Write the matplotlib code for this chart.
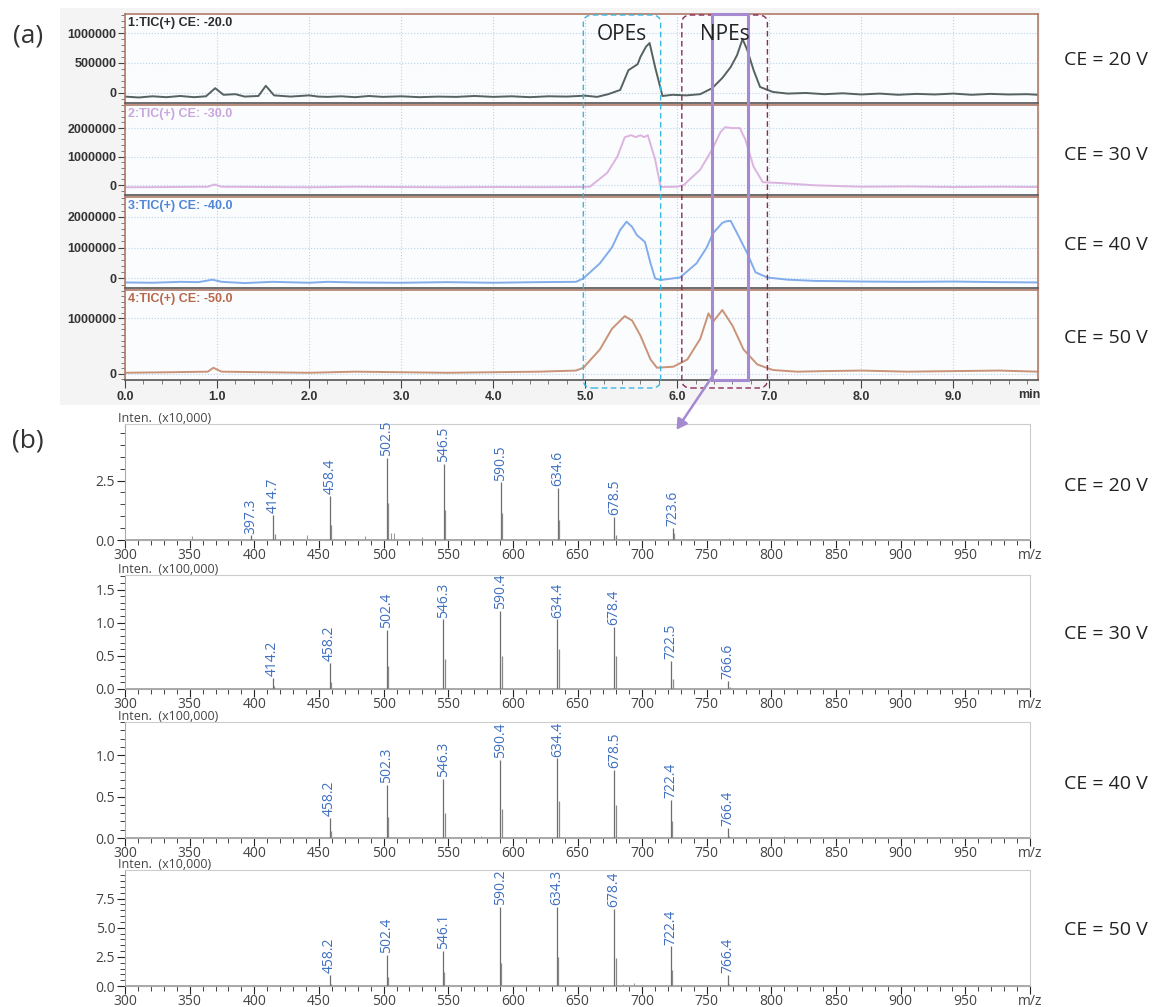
import matplotlib
matplotlib.use("Agg")
import matplotlib.pyplot as plt
from matplotlib.patches import Rectangle, FancyBboxPatch, FancyArrowPatch
from matplotlib.ticker import MultipleLocator, FixedLocator, FuncFormatter

# ---- (a) TIC chromatograms, time (min) / intensity ----
t20 = [0.0, 0.15, 0.3, 0.45, 0.6, 0.75, 0.88, 0.98, 1.07, 1.2, 1.3, 1.45, 1.53, 1.62, 1.8, 2.0, 2.1,
       2.2, 2.35, 2.5, 2.65, 2.8, 3.0, 3.2, 3.4, 3.6, 3.8, 4.0, 4.2, 4.4, 4.6, 4.8, 5.0, 5.13, 5.25,
       5.38, 5.47, 5.52, 5.57, 5.6, 5.66, 5.7, 5.76, 5.84, 5.95, 6.1, 6.25, 6.38, 6.49, 6.58, 6.65,
       6.71, 6.76, 6.83, 6.9, 7.04, 7.2, 7.4, 7.6, 7.8, 8.0, 8.2, 8.4, 8.6, 8.8, 9.0, 9.2, 9.4, 9.6,
       9.8, 9.92]
i20 = [-60e3, -75e3, -55e3, -70e3, -50e3, -70e3, -55e3, 80e3, -30e3, -20e3, -60e3, -50e3, 120e3,
       -40e3, -60e3, -40e3, -60e3, -65e3, -55e3, -70e3, -50e3, -65e3, -55e3, -70e3, -60e3, -65e3,
       -50e3, -65e3, -55e3, -70e3, -55e3, -60e3, -45e3, -65e3, -20e3, 50e3, 380e3, 430e3, 480e3,
       600e3, 770e3, 833e3, 430e3, -50e3, -30e3, -40e3, -20e3, 80e3, 250e3, 430e3, 630e3, 900e3,
       720e3, 380e3, 100e3, 17e3, -10e3, 0, -20e3, -5e3, -25e3, -10e3, -30e3, -15e3, -25e3, -10e3,
       -30e3, -15e3, -25e3, -20e3, -30e3]

t30 = [0.0, 0.5, 0.9, 0.97, 1.05, 1.5, 2.0, 2.5, 3.0, 3.5, 4.0, 4.5, 4.9, 5.05, 5.24, 5.35, 5.43,
       5.5, 5.55, 5.6, 5.64, 5.68, 5.76, 5.82, 6.0, 6.07, 6.25, 6.38, 6.47, 6.52, 6.6, 6.68, 6.74,
       6.83, 6.93, 7.12, 7.5, 8.0, 8.5, 9.0, 9.5, 9.92]
i30 = [-80e3, -70e3, -60e3, 20e3, -60e3, -70e3, -80e3, -60e3, -70e3, -80e3, -70e3, -75e3, -70e3,
       -60e3, 430e3, 1.0e6, 1.68e6, 1.75e6, 1.68e6, 1.75e6, 1.68e6, 1.75e6, 0.9e6, -70e3, -60e3, 0,
       540e3, 1.25e6, 1.86e6, 2.03e6, 2.0e6, 2.0e6, 1.6e6, 640e3, 100e3, 70e3, -10e3, -60e3, -50e3,
       -70e3, -60e3, -70e3]

t40 = [0.0, 0.3, 0.6, 0.8, 0.95, 1.05, 1.3, 1.6, 2.0, 2.2, 2.5, 3.0, 3.5, 4.0, 4.5, 4.9, 4.98,
       5.16, 5.29, 5.38, 5.45, 5.51, 5.56, 5.65, 5.71, 5.76, 5.82, 6.03, 6.21, 6.32, 6.39, 6.49,
       6.53, 6.58, 6.65, 6.76, 6.85, 6.98, 7.2, 7.5, 8.0, 8.5, 9.0, 9.5, 9.92]
i40 = [-130e3, -140e3, -110e3, -120e3, -40e3, -110e3, -150e3, -110e3, -140e3, -110e3, -130e3,
       -140e3, -120e3, -140e3, -120e3, -110e3, 0, 490e3, 1.0e6, 1.57e6, 1.84e6, 1.67e6, 1.41e6,
       1.18e6, 490e3, 0, -50e3, 30e3, 490e3, 1.0e6, 1.47e6, 1.8e6, 1.85e6, 1.87e6, 1.47e6, 820e3,
       200e3, 30e3, -40e3, -80e3, -100e3, -110e3, -100e3, -120e3, -130e3]

t50 = [0.0, 0.5, 0.9, 0.96, 1.05, 1.5, 2.0, 2.5, 3.0, 3.5, 4.0, 4.5, 4.9, 4.98, 5.16, 5.29, 5.43,
       5.51, 5.6, 5.71, 5.78, 5.96, 6.11, 6.25, 6.34, 6.39, 6.49, 6.6, 6.72, 6.87, 7.04, 7.3, 7.6,
       8.0, 8.5, 9.0, 9.5, 9.92]
i50 = [20e3, 30e3, 40e3, 110e3, 40e3, 30e3, 20e3, 40e3, 30e3, 20e3, 30e3, 40e3, 60e3, 110e3,
       440e3, 810e3, 1.04e6, 960e3, 690e3, 260e3, 110e3, 130e3, 260e3, 630e3, 1.09e6, 940e3,
       1.15e6, 870e3, 440e3, 170e3, 70e3, 40e3, 50e3, 60e3, 40e3, 50e3, 60e3, 40e3]

chrom_titles = ["1:TIC(+) CE: -20.0", "2:TIC(+) CE: -30.0", "3:TIC(+) CE: -40.0", "4:TIC(+) CE: -50.0"]
ce_labels = ["CE = 20 V", "CE = 30 V", "CE = 40 V", "CE = 50 V"]

# ---- (b) mass spectra: labelled peaks, heights, isotope (+1) heights ----
mz20 = [397.3, 414.7, 458.4, 502.5, 546.5, 590.5, 634.6, 678.5, 723.6]
h20 = [0.2, 1.05, 1.87, 3.45, 3.2, 2.42, 2.2, 0.96, 0.5]
iso20 = [0.05, 0.25, 0.65, 1.55, 1.25, 1.15, 0.85, 0.2, 0.3]
minor_mz20 = [352.0, 441.0, 486.0, 506.0, 508.0, 530.0, 767.0]
minor_h20 = [0.15, 0.2, 0.15, 0.3, 0.3, 0.12, 0.08]

mz30 = [414.2, 458.2, 502.4, 546.3, 590.4, 634.4, 678.4, 722.5, 766.6]
h30 = [0.17, 0.39, 0.89, 1.05, 1.18, 1.05, 0.94, 0.42, 0.12]
iso30 = [0.05, 0.1, 0.35, 0.45, 0.5, 0.6, 0.5, 0.15, 0.03]
minor_mz30 = [372.0, 483.0, 570.0]
minor_h30 = [0.01, 0.01, 0.01]

mz40 = [458.2, 502.3, 546.3, 590.4, 634.4, 678.5, 722.4, 766.4]
h40 = [0.24, 0.64, 0.71, 0.94, 0.96, 0.82, 0.46, 0.12]
iso40 = [0.08, 0.25, 0.3, 0.35, 0.45, 0.4, 0.2, 0.03]
minor_mz40 = [575.0, 810.0]
minor_h40 = [0.02, 0.03]

mz50 = [458.2, 502.4, 546.1, 590.2, 634.3, 678.4, 722.4, 766.4]
h50 = [0.95, 2.7, 3.0, 6.8, 6.8, 6.6, 3.4, 0.95]
iso50 = [0.2, 0.8, 1.2, 2.0, 2.5, 2.4, 1.4, 0.2]
minor_mz50 = [685.0, 694.0, 810.0]
minor_h50 = [0.2, 0.3, 0.1]

inten_labels = ["Inten.  (x10,000)", "Inten.  (x100,000)", "Inten.  (x100,000)", "Inten.  (x10,000)"]

W, H = 1176, 1007
fig = plt.figure(figsize=(W / 100, H / 100), dpi=100)
fig.patch.set_facecolor("white")


def fx(px):
    return px / W


def fy(py):
    return 1 - py / H


# light grey backdrop behind the chromatogram block
fig.add_artist(Rectangle((fx(60), fy(405)), fx(980), 397 / H, transform=fig.transFigure,
                         facecolor="#f4f4f4", edgecolor="none", zorder=0))

chrom_data = [(t20, i20), (t30, i30), (t40, i40), (t50, i50)]
chrom_colors = ["#55625f", "#dcb4e0", "#82acea", "#c99478"]
title_colors = ["#2b2b2b", "#c9a6dc", "#4f86d8", "#b8684a"]
chrom_pix = [(14, 103), (105, 195), (197, 288), (290, 380)]
chrom_ylim = [(-167e3, 1.317e6), (-350e3, 2.81e6), (-310e3, 2.64e6), (-110e3, 1.51e6)]
chrom_major = [500000, 1000000, 1000000, 1000000]
chrom_minor = [100000, 200000, 200000, 100000]
chrom_ce_y = [60, 155, 245, 338]
xmax_t = 9.92

bold_font = dict(family="Liberation Sans", weight="bold", size=9, color="#333333")
chrom_axes = []
for k, ((t, v), (top, bot)) in enumerate(zip(chrom_data, chrom_pix)):
    ax = fig.add_axes([fx(125), fy(bot), fx(1038 - 125), (bot - top) / H])
    ax.set_facecolor("#fbfcfe")
    ax.plot(t, v, color=chrom_colors[k], lw=1.4)
    ax.set_xlim(0, xmax_t)
    ax.set_ylim(*chrom_ylim[k])
    ax.yaxis.set_major_locator(MultipleLocator(chrom_major[k]))
    ax.yaxis.set_minor_locator(MultipleLocator(chrom_minor[k]))
    ax.yaxis.set_major_formatter(FuncFormatter(lambda v, p: "%d" % v))
    ax.xaxis.set_major_locator(MultipleLocator(1.0))
    ax.xaxis.set_minor_locator(MultipleLocator(0.2))
    ax.grid(True, which="major", color="#b8d4ec", ls=":", lw=0.8)
    for s in ax.spines.values():
        s.set_color("#b07a68")
        s.set_linewidth(1.2)
    ax.spines["bottom"].set_color("#555555")
    ax.tick_params(axis="y", which="major", length=5, color="#444", direction="out", pad=1)
    ax.tick_params(axis="y", which="minor", length=3, color="#666", direction="out")
    for lab in ax.get_yticklabels():
        lab.set(**bold_font)
    if k < 3:
        ax.tick_params(axis="x", which="both", bottom=False, labelbottom=False)
    else:
        ax.tick_params(axis="x", which="major", length=6, color="#444", direction="out", pad=2)
        ax.tick_params(axis="x", which="minor", length=3, color="#666", direction="out")
        ax.xaxis.set_major_formatter(FuncFormatter(lambda v, p: "%.1f" % v))
        for lab in ax.get_xticklabels():
            lab.set(**bold_font)
        ax.text(0.99, -0.17, "min", transform=ax.transAxes, ha="center", va="center", **bold_font)
    ax.text(0.003, 0.97, chrom_titles[k], transform=ax.transAxes, ha="left", va="top",
            family="Liberation Sans", weight="bold", size=9, color=title_colors[k])
    fig.text(fx(1106), fy(chrom_ce_y[k]), ce_labels[k], ha="center", va="center",
             family="Open Sans", size=14, color="#222222")
    chrom_axes.append(ax)

# boxes marking the OPE / NPE elution windows
ax_ref = chrom_axes[3]


def t_to_fig(t):
    disp = ax_ref.transData.transform((t, 0))
    return fig.transFigure.inverted().transform(disp)[0]


for (t0, t1, col, name) in [(4.98, 5.82, "#3ab8e0", "OPEs"), (6.05, 6.98, "#8a2a5a", "NPEs")]:
    x0, x1 = t_to_fig(t0), t_to_fig(t1)
    fig.add_artist(FancyBboxPatch((x0, fy(388)), x1 - x0, (388 - 15) / H,
                                  boxstyle="round,pad=0,rounding_size=0.008",
                                  transform=fig.transFigure, facecolor="none", edgecolor=col,
                                  ls=(0, (4, 2.5)), lw=1.0, zorder=5))
    fig.text((x0 + x1) / 2, fy(34), name, ha="center", va="center", family="Open Sans",
             size=15, color="#222222", zorder=6)

xs0, xs1 = t_to_fig(6.38), t_to_fig(6.77)
fig.add_artist(Rectangle((xs0, fy(380)), xs1 - xs0, (380 - 14) / H, transform=fig.transFigure,
                         facecolor="none", edgecolor="#a68ad0", lw=2.2, zorder=6))
fig.add_artist(FancyArrowPatch((fx(718), fy(368)), (fx(675), fy(432)), transform=fig.transFigure,
                               arrowstyle="-|>,head_length=6,head_width=3.5", color="#a68ad0",
                               lw=1.8, zorder=6))

fig.text(fx(28), fy(36), "(a)", ha="center", va="center", family="Open Sans", size=19,
         color="#333333")
fig.text(fx(28), fy(441), "(b)", ha="center", va="center", family="Open Sans", size=19,
         color="#333333")

# ---- spectra ----
spectra = [(mz20, h20, iso20, minor_mz20, minor_h20),
           (mz30, h30, iso30, minor_mz30, minor_h30),
           (mz40, h40, iso40, minor_mz40, minor_h40),
           (mz50, h50, iso50, minor_mz50, minor_h50)]
spec_pix = [(424, 540), (575, 689), (722, 838), (870, 986)]
spec_ylim = [4.88, 1.72, 1.40, 9.95]
spec_major = [2.5, 0.5, 0.5, 2.5]
spec_minor = [0.5, 0.1, 0.1, 0.5]
spec_ce_y = [486, 634, 784, 930]
label_blue = "#3f6fc0"
xticks_mz = list(range(300, 1001, 50))

for k, ((mz, h, iso, mmz, mh), (top, bot)) in enumerate(zip(spectra, spec_pix)):
    ax = fig.add_axes([fx(125), fy(bot), fx(1030 - 125), (bot - top) / H])
    ax.set_xlim(300, 1000)
    ax.set_ylim(0, spec_ylim[k])
    ax.axhline(0, color="#9a9a9a", lw=1.2, zorder=1)
    ax.vlines(mz, 0, h, color="#6e6e6e", lw=0.9, zorder=2)
    ax.vlines([m + 1.0 for m in mz], 0, iso, color="#8a8a8a", lw=0.9, zorder=2)
    ax.vlines(mmz, 0, mh, color="#9a9a9a", lw=0.8, zorder=2)
    for m, hh in zip(mz, h):
        ax.text(m, hh + spec_ylim[k] * 0.015, "%.1f" % m, rotation=90, ha="center", va="bottom",
                family="Open Sans", size=10, color=label_blue)
    ax.xaxis.set_major_locator(FixedLocator(xticks_mz))
    ax.xaxis.set_minor_locator(MultipleLocator(10))
    ax.xaxis.set_major_formatter(FuncFormatter(lambda v, p: "m/z" if v >= 1000 else "%d" % v))
    ax.yaxis.set_major_locator(MultipleLocator(spec_major[k]))
    ax.yaxis.set_minor_locator(MultipleLocator(spec_minor[k]))
    ax.yaxis.set_major_formatter(FuncFormatter(lambda v, p: "%.1f" % v))
    for s in ["top", "right"]:
        ax.spines[s].set_color("#cccccc")
    ax.spines["left"].set_color("#aaaaaa")
    ax.spines["bottom"].set_color("#aaaaaa")
    ax.tick_params(axis="both", which="major", length=6, color="#222", direction="out",
                   labelsize=10, labelcolor="#444444", pad=0)
    ax.tick_params(axis="both", which="minor", length=3.5, color="#222", direction="out")
    ax.tick_params(axis="y", which="major", pad=1)
    for lab in ax.get_xticklabels() + ax.get_yticklabels():
        lab.set_family("Open Sans")
    ax.text(-0.008, 0.99, inten_labels[k], transform=ax.transAxes, ha="left", va="bottom",
            family="Open Sans", size=9, color="#444444")
    fig.text(fx(1106), fy(spec_ce_y[k]), ce_labels[k], ha="center", va="center",
             family="Open Sans", size=14, color="#222222")

fig.savefig("out.png", dpi=100)
